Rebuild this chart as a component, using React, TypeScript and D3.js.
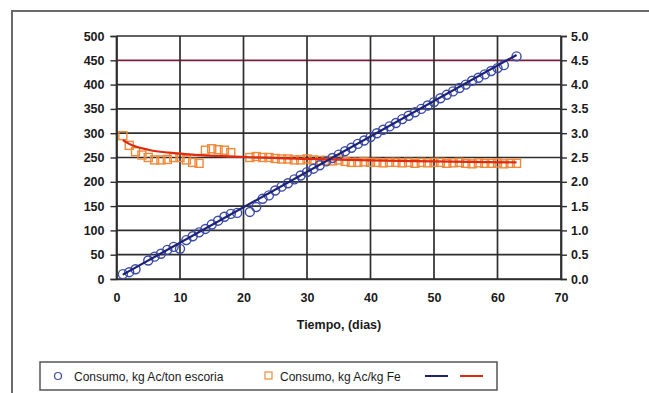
import React, { useRef, useEffect } from 'react'
import { select, scaleLinear, axisLeft, axisRight, axisBottom, line, curveMonotoneX, range } from 'd3'

// Consumo, kg Ac/ton escoria (eje izquierdo)
const diasEscoria = [1, 2, 3, 5, 6, 7, 8, 9, 10, 11, 12, 13, 14, 15, 16, 17, 18, 19, 21, 22, 23, 24, 25, 26, 27, 28, 29, 30, 31, 32, 33, 34, 35, 36, 37, 38, 39, 40, 41, 42, 43, 44, 45, 46, 47, 48, 49, 50, 51, 52, 53, 54, 55, 56, 57, 58, 59, 60, 61, 63]
const consumoEscoria = [10, 14, 20, 38, 46, 52, 60, 66, 62, 80, 88, 96, 103, 112, 120, 128, 134, 136, 138, 148, 165, 172, 182, 190, 197, 205, 213, 220, 227, 234, 242, 249, 256, 263, 270, 278, 285, 292, 300, 307, 314, 321, 329, 336, 343, 350, 357, 364, 372, 379, 386, 393, 400, 408, 414, 421, 428, 434, 440, 458]

// Consumo, kg Ac/kg Fe (eje derecho)
const diasFe = [1, 2, 3, 4, 5, 6, 7, 8, 9, 10, 11, 12, 13, 14, 15, 16, 17, 18, 21, 22, 23, 24, 25, 26, 27, 28, 29, 30, 31, 32, 33, 34, 35, 36, 37, 38, 39, 40, 41, 42, 43, 44, 45, 46, 47, 48, 49, 50, 51, 52, 53, 54, 55, 56, 57, 58, 59, 60, 61, 62, 63]
const consumoFe = [2.95, 2.75, 2.62, 2.55, 2.5, 2.45, 2.45, 2.46, 2.5, 2.5, 2.45, 2.4, 2.38, 2.65, 2.68, 2.66, 2.65, 2.6, 2.5, 2.52, 2.5, 2.5, 2.48, 2.47, 2.47, 2.45, 2.45, 2.47, 2.45, 2.44, 2.44, 2.43, 2.45, 2.42, 2.4, 2.4, 2.41, 2.4, 2.4, 2.39, 2.4, 2.4, 2.39, 2.4, 2.38, 2.4, 2.39, 2.4, 2.4, 2.38, 2.39, 2.4, 2.38, 2.37, 2.39, 2.38, 2.38, 2.39, 2.37, 2.38, 2.38]

// lineas de tendencia
const tendEscoriaDias = [1, 63]
const tendEscoriaVal = [9, 461]
const tendFeDias = [1, 2, 5, 10, 20, 30, 40, 50, 63]
const tendFeVal = [2.86, 2.78, 2.66, 2.58, 2.51, 2.47, 2.44, 2.42, 2.4]

const xTicks = [0, 10, 20, 30, 40, 50, 60, 70]
const leftTicks = range(0, 501, 50)
const rightTicks = range(0, 5.01, 0.5)

const FONT = 'Arial, "Liberation Sans", sans-serif'

function App() {
  const svgRef = useRef(null)

  useEffect(() => {
    const svg = select(svgRef.current)
    svg.selectAll('*').remove()

    const xScale = scaleLinear().domain([0, 70]).range([116.5, 561])
    const yLeft = scaleLinear().domain([0, 500]).range([279, 36])
    const yRight = scaleLinear().domain([0, 5]).range([279, 36])

    // marco exterior
    svg.append('path')
      .attr('d', 'M12,393 L12,11 L649,11')
      .attr('fill', 'none')
      .attr('stroke', '#6a6a6a')
      .attr('stroke-width', 2)

    // rejilla
    const grid = svg.append('g')
    grid.selectAll('.h')
      .data(leftTicks)
      .join('line')
      .attr('x1', xScale(0)).attr('x2', xScale(70))
      .attr('y1', d => yLeft(d)).attr('y2', d => yLeft(d))
      .attr('stroke', d => (d === 450 ? '#7a2040' : '#2e2e2e'))
      .attr('stroke-width', 1.7)
    grid.selectAll('.v')
      .data(xTicks)
      .join('line')
      .attr('x1', d => xScale(d)).attr('x2', d => xScale(d))
      .attr('y1', yLeft(0)).attr('y2', yLeft(500))
      .attr('stroke', '#2e2e2e')
      .attr('stroke-width', 1.7)

    // ejes
    const styleAxis = (g) => {
      g.select('.domain').attr('stroke', '#2e2e2e').attr('stroke-width', 1.7)
      g.selectAll('.tick line').attr('stroke', '#2e2e2e').attr('stroke-width', 1.4)
      g.selectAll('.tick text')
        .attr('fill', '#1a1a1a')
        .attr('font-size', 12.5)
        .attr('font-weight', 'bold')
        .attr('font-family', FONT)
    }

    svg.append('g')
      .attr('transform', `translate(${xScale(0)},0)`)
      .call(axisLeft(yLeft).tickValues(leftTicks).tickSize(6).tickPadding(6))
      .call(g => styleAxis(g))

    svg.append('g')
      .attr('transform', `translate(${xScale(70)},0)`)
      .call(axisRight(yRight).tickValues(rightTicks).tickFormat(d => d.toFixed(1)).tickSize(6).tickPadding(4))
      .call(g => styleAxis(g))

    svg.append('g')
      .attr('transform', `translate(0,${yLeft(0)})`)
      .call(axisBottom(xScale).tickValues(xTicks).tickSize(0).tickPadding(14))
      .call(g => styleAxis(g))

    svg.append('text')
      .attr('x', 339).attr('y', 329)
      .attr('text-anchor', 'middle')
      .attr('font-family', FONT)
      .attr('font-size', 12.5)
      .attr('font-weight', 'bold')
      .attr('fill', '#1a1a1a')
      .text('Tiempo, (dias)')

    // puntos kg Ac/kg Fe
    svg.append('g').selectAll('rect')
      .data(diasFe.map((d, i) => [d, consumoFe[i]]))
      .join('rect')
      .attr('x', d => xScale(d[0]) - 4)
      .attr('y', d => yRight(d[1]) - 4)
      .attr('width', 8).attr('height', 8)
      .attr('fill', 'none')
      .attr('stroke', '#f08a3a')
      .attr('stroke-width', 1.4)

    // puntos kg Ac/ton escoria
    svg.append('g').selectAll('circle')
      .data(diasEscoria.map((d, i) => [d, consumoEscoria[i]]))
      .join('circle')
      .attr('cx', d => xScale(d[0]))
      .attr('cy', d => yLeft(d[1]))
      .attr('r', 4.5)
      .attr('fill', 'none')
      .attr('stroke', '#3a4aa8')
      .attr('stroke-width', 1.4)

    // tendencias
    const lineLeft = line().x(d => xScale(d[0])).y(d => yLeft(d[1]))
    const lineRight = line().x(d => xScale(d[0])).y(d => yRight(d[1])).curve(curveMonotoneX)

    svg.append('path')
      .datum(tendFeDias.map((d, i) => [d, tendFeVal[i]]))
      .attr('d', lineRight)
      .attr('fill', 'none')
      .attr('stroke', '#e02a10')
      .attr('stroke-width', 2.2)

    svg.append('path')
      .datum(tendEscoriaDias.map((d, i) => [d, tendEscoriaVal[i]]))
      .attr('d', lineLeft)
      .attr('fill', 'none')
      .attr('stroke', '#1c2278')
      .attr('stroke-width', 2.2)

    // leyenda
    const lg = svg.append('g')
    lg.append('rect')
      .attr('x', 40).attr('y', 362).attr('width', 457).attr('height', 28)
      .attr('fill', '#fff')
      .attr('stroke', '#555')
      .attr('stroke-width', 1.5)
    lg.append('circle')
      .attr('cx', 58).attr('cy', 376).attr('r', 3.5)
      .attr('fill', 'none').attr('stroke', '#3a4aa8').attr('stroke-width', 1.2)
    lg.append('rect')
      .attr('x', 265).attr('y', 372).attr('width', 7).attr('height', 7)
      .attr('fill', 'none').attr('stroke', '#f08a3a').attr('stroke-width', 1.2)
    lg.append('line')
      .attr('x1', 425).attr('x2', 448).attr('y1', 376).attr('y2', 376)
      .attr('stroke', '#1c2278').attr('stroke-width', 2)
    lg.append('line')
      .attr('x1', 460).attr('x2', 483).attr('y1', 376).attr('y2', 376)
      .attr('stroke', '#e02a10').attr('stroke-width', 2)
    const labels = [['Consumo, kg Ac/ton escoria', 74], ['Consumo, kg Ac/kg Fe', 280]]
    lg.selectAll('text')
      .data(labels)
      .join('text')
      .attr('x', d => d[1]).attr('y', 380.5)
      .attr('font-family', FONT)
      .attr('font-size', 12)
      .attr('fill', '#1a1a1a')
      .text(d => d[0])
  }, [])

  return (
    <svg
      ref={svgRef}
      width={649}
      height={393}
      style={{ position: 'absolute', left: 0, top: 0, background: '#fff' }}
    />
  )
}

export default App
